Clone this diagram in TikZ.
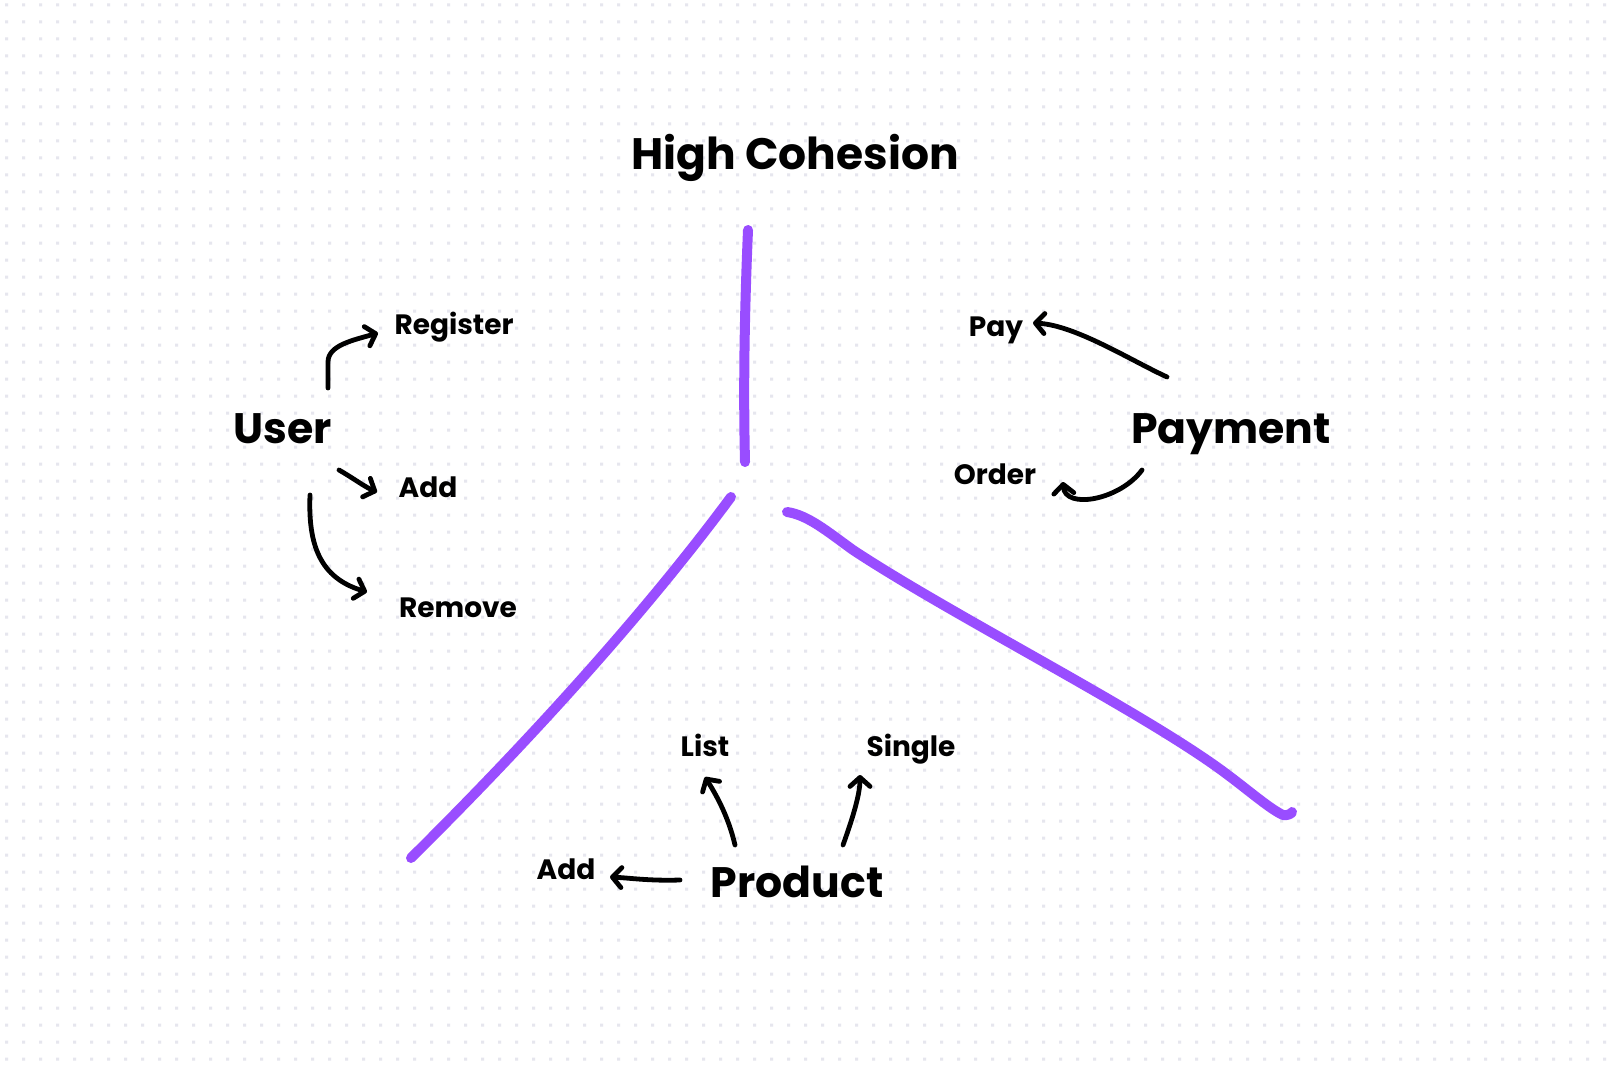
\documentclass[tikz,border=0pt]{standalone}
\usepackage{fontspec}
\setmainfont{Poppins}
\usetikzlibrary{arrows.meta, calc}
\definecolor{cohesionpurple}{HTML}{994DFF}
\definecolor{dotgray}{HTML}{E6E6EE}

\begin{document}
\begin{tikzpicture}[
    x=0.5pt, y=-0.5pt,
    titleword/.style={
        font=\bfseries\fontsize{22}{26}\selectfont,
        inner sep=0pt,
        anchor=base
    },
    bigword/.style={
        font=\bfseries\fontsize{21.3}{25}\selectfont,
        inner sep=0pt,
        anchor=base
    },
    smallword/.style={
        font=\bfseries\fontsize{14}{17}\selectfont,
        inner sep=0pt,
        anchor=base
    },
    cutline/.style={
        line width=5pt,
        color=cohesionpurple,
        line cap=round,
        line join=round
    },
    hand/.style={
        -{Straight Barb[length=4.5pt,width=10pt,round]},
        line width=2.4pt,
        line cap=round,
        color=black
    }
]
\useasboundingbox (0,0) rectangle (1620,1064);
\fill[white] (0,0) rectangle (1620,1064);

% dotted canvas
\fill[dotgray] foreach \i in {0,...,94} {
    foreach \j in {0,...,62} { ({5+17*\i},{3.5+17*\j}) rectangle ++(3,3) }
};

% Words
\node[titleword] (title) at (795,170) {High Cohesion};
\node[bigword] (user) at (283,443) {User};
\node[bigword] (payment) at (1231,443) {Payment};
\node[bigword] (product) at (797,897) {Product};

\node[smallword] (register) at (454,334) {Register};
\node[smallword] (useradd) at (428,497) {Add};
\node[smallword] (remove) at (458,617) {Remove};
\node[smallword] (pay) at (996,336) {Pay};
\node[smallword] (order) at (995,484) {Order};
\node[smallword] (list) at (705,756) {List};
\node[smallword] (single) at (911,756) {Single};
\node[smallword] (productadd) at (566,879) {Add};

% Purple separators
\draw[cutline] (748,230) .. controls (745,300) and (743,380) .. (745,462);
\draw[cutline] (731,497) .. controls (640,620) and (520,750) .. (411,858);
\draw[cutline] (787,512) .. controls (808,515) and (828,532) .. (853,550)
    .. controls (950,614) and (1130,705) .. (1217,767)
    .. controls (1245,787) and (1268,808) .. (1283,815)
    .. controls (1288,816) and (1292,813) .. (1292,812);

% User arrows
\draw[hand] ($(user.base)+(45,-55)$) -- ++(0,-26) .. controls +(0,-17) and +(-24,7) .. ($(register.base)+(-76,-1)$);
\draw[hand] ($(user.base)+(56,27)$) .. controls +(14,8) and +(-12,-5) .. ($(useradd.base)+(-51,-5)$);
\draw[hand] ($(user.base)+(27,52)$) .. controls +(-2,50) and +(-47,-14) .. ($(remove.base)+(-91,-25)$);

% Payment arrows
\draw[hand] ($(payment.base)+(-64,-66)$) .. controls +(-37,-17) and +(42,2) .. ($(pay.base)+(37,-13)$);
\draw[hand] ($(payment.base)+(-89,27)$) .. controls +(-22,30) and +(2,28) .. ($(order.base)+(68,-2)$);

% Product arrows
\draw[hand] ($(product.base)+(-62,-52)$) .. controls +(-7,-30) and +(10,16) .. ($(list.base)+(0,21)$);
\draw[hand] ($(product.base)+(46,-52)$) .. controls +(9,-25) and +(0,20) .. ($(single.base)+(-51,19)$);
\draw[hand] ($(product.base)+(-117,-17)$) .. controls +(-30,1) and +(20,1) .. ($(productadd.base)+(44,-2)$);

\end{tikzpicture}
\end{document}
